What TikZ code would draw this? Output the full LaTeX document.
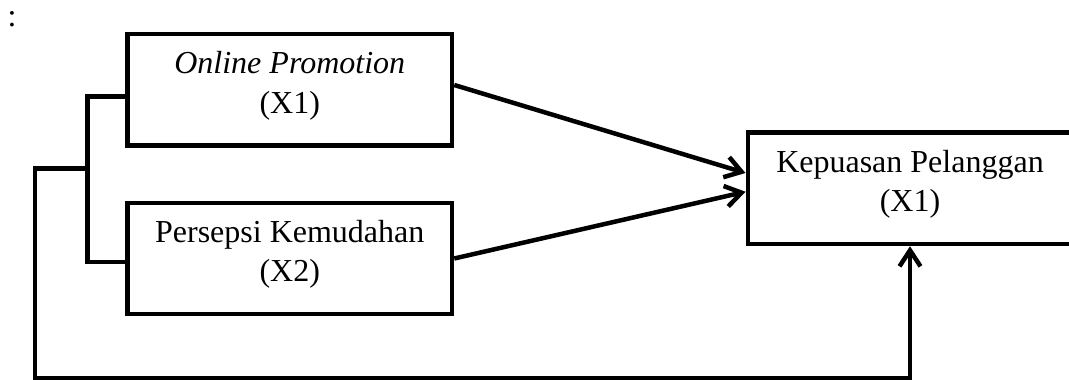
\documentclass[tikz,border=0pt]{standalone}
\usepackage{fontspec}
\setmainfont{Liberation Serif}
\usetikzlibrary{arrows.meta}
\begin{document}
\begin{tikzpicture}[x=1pt,y=-1pt,
  box/.style={draw, line width=4.5pt, minimum width=324.5pt, minimum height=111.5pt, inner sep=0pt},
  lbl/.style={font=\fontsize{32}{39.5}\selectfont, align=center, inner sep=0pt},
  link/.style={line width=4.5pt},
  arr/.style={link, -{Straight Barb[length=16pt,width=21pt]}}]
\useasboundingbox (0,0) rectangle (1069,380);

% lead-in colon
\node[lbl, anchor=base] (colon) at (12,26) {:};

% variables
\node[box] (b1) at (289.75,89.75) {};
\node[lbl, yshift=4pt] (t1) at (b1.center) {\textit{Online Promotion}\\(X1)};
\node[box, minimum height=111pt] (b2) at (289.75,258.5) {};
\node[lbl, yshift=4pt] (t2) at (b2.center) {Persepsi Kemudahan\\(X2)};
\node[box] (b3) at (910,188.25) {};
\node[lbl, yshift=4pt] (t3) at (b3.center) {Kepuasan Pelanggan\\(X1)};

% direct effects
\draw[arr] ([yshift=4.75pt]b1.east) -- ([yshift=15.25pt]b3.west);
\draw[arr] (b2.east) -- ([yshift=-3.5pt]b3.west);

% joint effect: bracket joining X1 and X2, routed underneath to Y
\coordinate (j) at (87.7,168.5);
\coordinate (c1) at (35,168.5);
\coordinate (c2) at (35,378);
\coordinate (c3) at (910,378);
\draw[link] ([yshift=-6.75pt]b1.west) -| (87.7,168.5) |- ([yshift=-3.5pt]b2.west);
\draw[arr] (j) -- (c1) -- (c2) -- (c3) -- (b3.south);
\end{tikzpicture}
\end{document}
